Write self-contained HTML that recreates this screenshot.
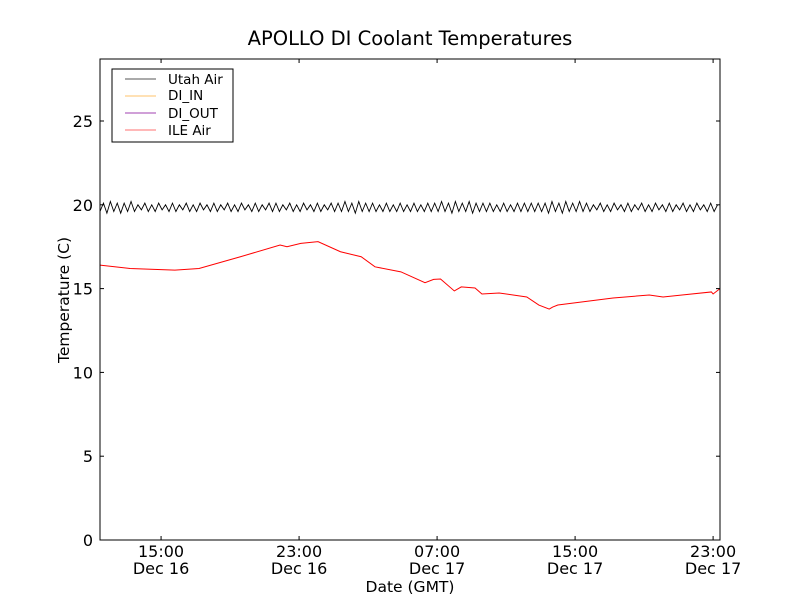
<!DOCTYPE html>
<html><head><meta charset="utf-8"><style>
body{margin:0;background:#fff;}
svg{display:block;font-family:"DejaVu Sans","Liberation Sans",sans-serif;}
</style></head><body>
<svg id="chart" width="800" height="600" viewBox="0 0 800 600" xmlns="http://www.w3.org/2000/svg">
<rect width="800" height="600" fill="#fff"/>
<text x="410" y="45" font-size="19.5" text-anchor="middle">APOLLO DI Coolant Temperatures</text>
<g id="plot"></g>
<rect x="100" y="59" width="620" height="481" fill="none" stroke="#000" stroke-width="1"/>
<g id="axes"></g>
<text x="69" y="300" font-size="15.5" text-anchor="middle" transform="rotate(-90 69 300)">Temperature (C)</text>
<text x="410" y="592" font-size="15.5" text-anchor="middle">Date (GMT)</text>
<g>
<rect x="112" y="69" width="121" height="73" fill="#fff" stroke="#000" stroke-width="1"/>
<g><line x1="125" y1="79" x2="156" y2="79" stroke="#555"/><text x="168" y="84" font-size="13.5">Utah Air</text></g>
<g><line x1="125" y1="96" x2="156" y2="96" stroke="#ffc36b"/><text x="168" y="100" font-size="13.5">DI_IN</text></g>
<g><line x1="125" y1="113" x2="156" y2="113" stroke="#a040b0"/><text x="168" y="118" font-size="13.5">DI_OUT</text></g>
<g><line x1="125" y1="130" x2="156" y2="130" stroke="#ff7070"/><text x="168" y="135" font-size="13.5">ILE Air</text></g>
</g>
</svg>
<script>
const yTicks=[0,5,10,15,20,25];
const xTickHours=[15,23,31,39,47];
const xTickTimes=["15:00","23:00","07:00","15:00","23:00"];
const xTickDates=["Dec 16","Dec 16","Dec 17","Dec 17","Dec 17"];
const ileHours=[11.46,13.2,15.8,17.2,19.6,21.9,22.3,23.1,24.1,25.4,26.6,27.4,28.9,30.3,30.8,31.2,32.0,32.4,33.2,33.6,34.6,36.2,36.9,37.5,37.7,38.0,41.2,43.3,44.1,45.2,46.9,47.0,47.4];
const ileVals=[16.4,16.2,16.1,16.2,16.9,17.6,17.5,17.7,17.8,17.2,16.9,16.3,16.0,15.35,15.55,15.57,14.86,15.1,15.04,14.68,14.74,14.5,14.02,13.78,13.9,14.02,14.44,14.62,14.5,14.62,14.8,14.68,15.0];
const utahStart=11.46;
const utahStep=0.2;
const utahVals=[
19.6,20.1,19.5,20.2,19.6,20.1,19.5,20.1,19.6,20.2,19.6,20.0,19.7,20.1,19.6,20.0,19.6,20.1,19.7,20.0,
19.6,20.1,19.6,20.0,19.7,20.1,19.6,20.0,19.6,20.1,19.7,20.0,19.6,20.1,19.6,20.0,19.7,20.1,19.6,20.0,
19.6,20.1,19.7,20.0,19.6,20.1,19.6,20.0,19.7,20.1,19.6,20.1,19.6,20.0,19.7,20.1,19.6,20.0,19.6,20.1,
19.7,20.0,19.6,20.1,19.6,20.0,19.7,20.1,19.6,20.1,19.6,20.2,19.6,20.1,19.5,20.2,19.6,20.1,19.6,20.1,
19.6,20.0,19.6,20.1,19.6,20.0,19.6,20.1,19.6,20.0,19.6,20.1,19.6,20.0,19.6,20.1,19.6,20.1,19.6,20.2,
19.6,20.1,19.5,20.2,19.6,20.1,19.6,20.2,19.5,20.1,19.6,20.1,19.6,20.1,19.6,20.0,19.6,20.1,19.6,20.0,
19.6,20.1,19.6,20.1,19.6,20.1,19.6,20.1,19.6,20.1,19.5,20.2,19.6,20.1,19.5,20.2,19.6,20.1,19.6,20.2,
19.6,20.1,19.6,20.0,19.7,20.1,19.6,20.0,19.6,20.1,19.7,20.0,19.6,20.1,19.6,20.0,19.7,20.1,19.6,20.0,
19.6,20.1,19.7,20.0,19.6,20.1,19.6,20.0,19.7,20.1,19.6,20.0,19.6,20.1,19.7,20.0,19.6,20.1,19.6,20.0
];
const NS="http://www.w3.org/2000/svg";
const X0=100,X1=720,Y0=540,Y1=59,H0=11.46,H1=47.4,V0=0,V1=28.7;
function xs(h){return X0+(h-H0)/(H1-H0)*(X1-X0);}
function ys(v){return Y0-(v-V0)/(V1-V0)*(Y0-Y1);}
function mk(tag,attrs,parent){const e=document.createElementNS(NS,tag);for(const k in attrs)e.setAttribute(k,attrs[k]);parent.appendChild(e);return e;}
const plot=document.getElementById('plot'),axes=document.getElementById('axes');
let d="";
utahVals.forEach((v,i)=>{d+=(i?"L":"M")+Math.min(X1,xs(utahStart+i*utahStep)).toFixed(2)+","+ys(v).toFixed(2);});
const pu=mk('path',{d:d,fill:"none",stroke:"#000","stroke-width":"0.9"},plot);


d="";
ileVals.forEach((v,i)=>{d+=(i?"L":"M")+xs(ileHours[i]).toFixed(2)+","+ys(v).toFixed(2);});
const pi=mk('path',{d:d,fill:"none",stroke:"#ff0000","stroke-width":"1"},plot);


yTicks.forEach(v=>{const y=ys(v);
mk('line',{x1:X0,y1:y,x2:X0+4,y2:y,stroke:"#000"},axes);
mk('line',{x1:X1,y1:y,x2:X1-4,y2:y,stroke:"#000"},axes);
const t=mk('text',{x:X0-7,y:y+6,"font-size":"16","text-anchor":"end"},axes);t.textContent=v;


});
xTickHours.forEach((h,i)=>{const x=xs(h);
mk('line',{x1:x,y1:Y0,x2:x,y2:Y0-4,stroke:"#000"},axes);
mk('line',{x1:x,y1:Y1,x2:x,y2:Y1+4,stroke:"#000"},axes);
const t=mk('text',{x:x,y:557,"font-size":"16","text-anchor":"middle"},axes);t.textContent=xTickTimes[i];


const t2=mk('text',{x:x,y:574,"font-size":"16","text-anchor":"middle"},axes);t2.textContent=xTickDates[i];


});
</script>
</body></html>
